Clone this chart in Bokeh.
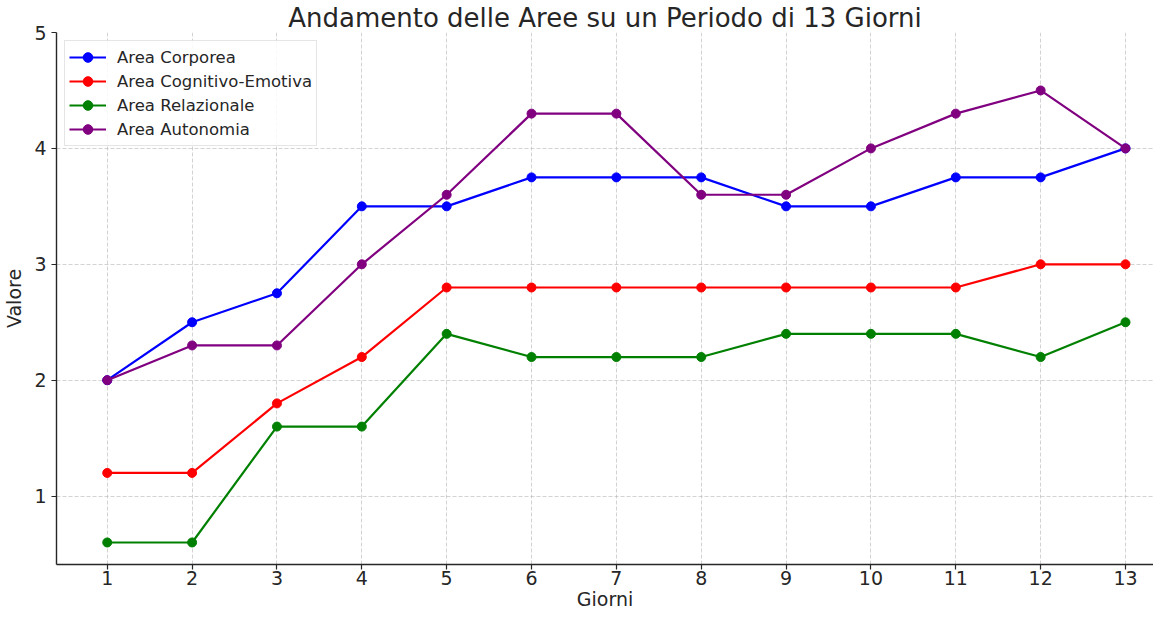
from bokeh.plotting import figure
from bokeh.models import FixedTicker, Range1d
from bokeh.embed import file_html
from bokeh.resources import INLINE

giorni = list(range(1, 14))
corporea = [2, 2.5, 2.75, 3.5, 3.5, 3.75, 3.75, 3.75, 3.5, 3.5, 3.75, 3.75, 4]
cognitivo = [1.2, 1.2, 1.8, 2.2, 2.8, 2.8, 2.8, 2.8, 2.8, 2.8, 2.8, 3, 3]
relazionale = [0.6, 0.6, 1.6, 1.6, 2.4, 2.2, 2.2, 2.2, 2.4, 2.4, 2.4, 2.2, 2.5]
autonomia = [2, 2.3, 2.3, 3, 3.6, 4.3, 4.3, 3.6, 3.6, 4, 4.3, 4.5, 4]

series = [
    ("Area Corporea", corporea, "#0000ff"),
    ("Area Cognitivo-Emotiva", cognitivo, "#ff0000"),
    ("Area Relazionale", relazionale, "#008000"),
    ("Area Autonomia", autonomia, "#800080"),
]

FONT = "DejaVu Sans"
TXT = "#262626"

p = figure(width=1153, height=612, output_backend="svg", toolbar_location=None,
           title="Andamento delle Aree su un Periodo di 13 Giorni",
           x_range=Range1d(0.402, 13.33), y_range=Range1d(0.41, 5.0),
           min_border_left=47, min_border_bottom=0, min_border_right=0, min_border_top=0)

p.title.align = "center"
p.title.text_font = FONT
p.title.text_font_size = "26px"
p.title.text_font_style = "normal"
p.title.text_color = TXT
p.title.standoff = 0

p.outline_line_color = None
p.background_fill_color = "white"

for ax in (p.xaxis[0], p.yaxis[0]):
    ax.axis_line_color = "#262626"
    ax.axis_line_width = 1.4
    ax.major_tick_line_color = "#262626"
    ax.major_tick_line_width = 1.2
    ax.major_tick_out = 5
    ax.major_tick_in = 0
    ax.minor_tick_line_color = None
    ax.major_label_text_font = FONT
    ax.major_label_text_font_size = "19px"
    ax.major_label_text_color = TXT
    ax.axis_label_text_font = FONT
    ax.axis_label_text_font_size = "19px"
    ax.axis_label_text_font_style = "normal"
    ax.axis_label_text_color = TXT
    ax.axis_label_text_line_height = 1.0

p.xaxis.ticker = FixedTicker(ticks=giorni)
p.yaxis.ticker = FixedTicker(ticks=[1, 2, 3, 4, 5])
p.xaxis.axis_label = "Giorni"
p.yaxis.axis_label = "Valore"
p.xaxis.axis_label_standoff = 0
p.yaxis.axis_label_standoff = 6
p.xaxis.major_label_standoff = 1
p.yaxis.major_label_standoff = 5

p.grid.grid_line_color = "#b0b0b0"
p.grid.grid_line_alpha = 0.7
p.grid.grid_line_dash = "4 2"
p.grid.grid_line_width = 0.8

for name, vals, col in series:
    p.line(giorni, vals, line_color=col, line_width=2.2, legend_label=name)
    p.scatter(giorni, vals, fill_color=col, line_color=col, size=9, legend_label=name)

lg = p.legend[0]
lg.location = "top_left"
lg.margin = 8
lg.padding = 4
lg.spacing = 0
lg.label_standoff = 11
lg.label_text_font = FONT
lg.label_text_font_size = "16.5px"
lg.label_text_color = TXT
lg.label_height = 24
lg.glyph_height = 24
lg.glyph_width = 37
lg.border_line_color = "#cccccc"
lg.border_line_width = 1
lg.background_fill_alpha = 0.85

open("out.html", "w").write(file_html(p, INLINE))
